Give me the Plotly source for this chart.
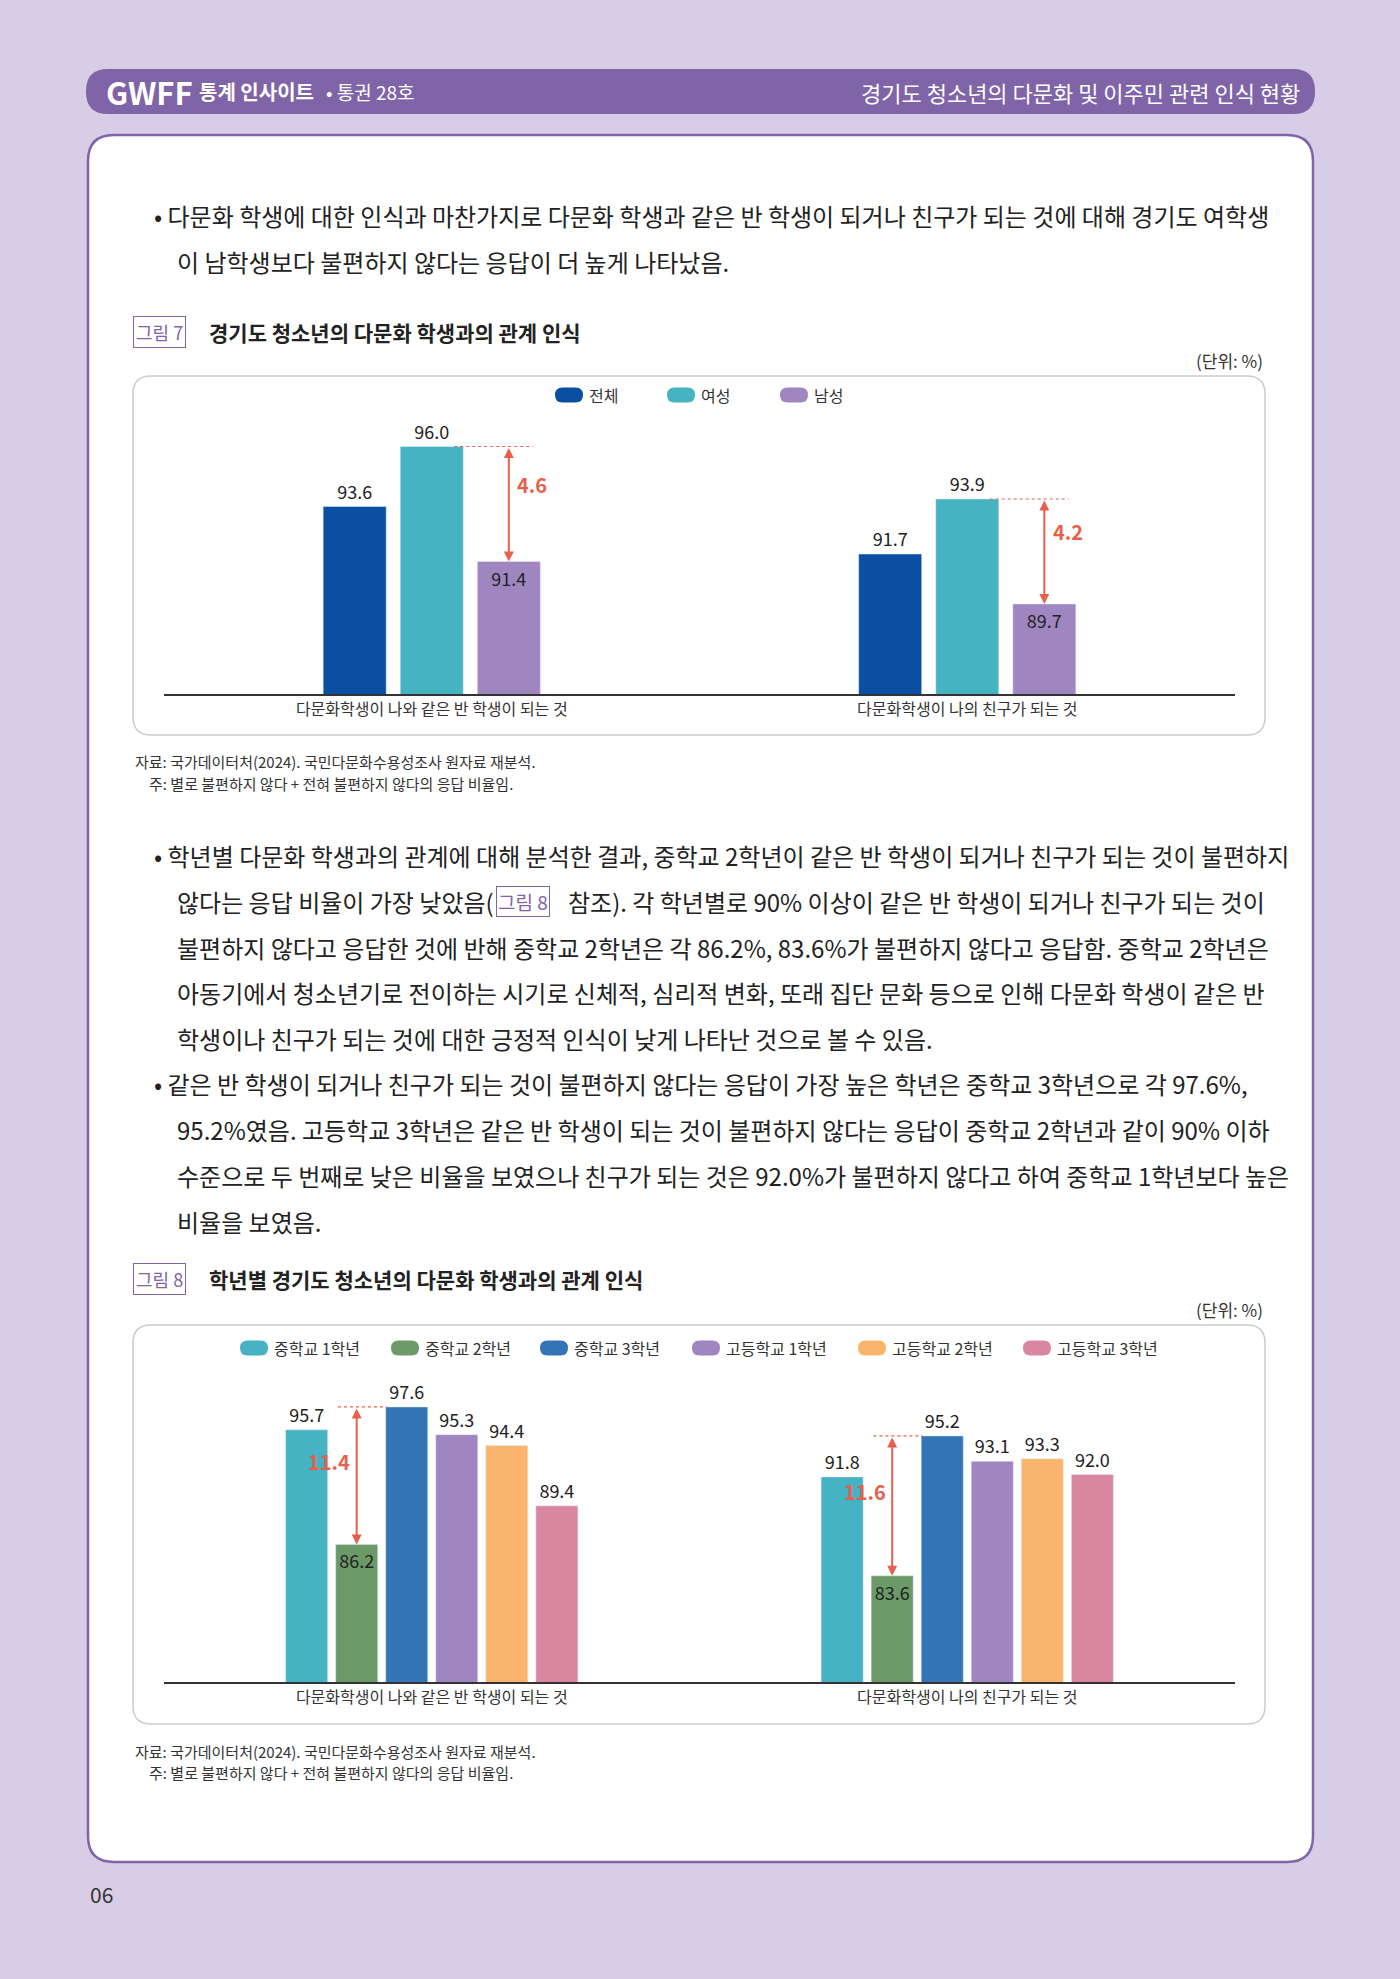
import plotly.graph_objects as go

W, H = 1400, 1979
FONT = "Noto Sans CJK KR"

# ---- data ----
cats1 = ["다문화학생이 나와 같은 반 학생이 되는 것", "다문화학생이 나의 친구가 되는 것"]
series1 = ["전체", "여성", "남성"]
vals1 = {"전체": [93.6, 91.7], "여성": [96.0, 93.9], "남성": [91.4, 89.7]}
colors1 = {"전체": "#0b4fa3", "여성": "#46b3c3", "남성": "#a086c1"}
gap1 = [4.6, 4.2]

series2 = ["중학교 1학년", "중학교 2학년", "중학교 3학년", "고등학교 1학년", "고등학교 2학년", "고등학교 3학년"]
vals2 = {"중학교 1학년": [95.7, 91.8], "중학교 2학년": [86.2, 83.6], "중학교 3학년": [97.6, 95.2],
         "고등학교 1학년": [95.3, 93.1], "고등학교 2학년": [94.4, 93.3], "고등학교 3학년": [89.4, 92.0]}
colors2 = {"중학교 1학년": "#45b3c3", "중학교 2학년": "#6b9a68", "중학교 3학년": "#3274b5",
           "고등학교 1학년": "#a086c1", "고등학교 2학년": "#fbb46e", "고등학교 3학년": "#d987a0"}
gap2 = [11.4, 11.6]

PURPLE = "#8064a8"
RED = "#e8604c"

def px(x): return x / W
def py(y): return 1 - y / H

shapes, annos = [], []

def rrect(x0, y0, x1, y1, r, fill, line=None, lw=0):
    X0, X1, Y0, Y1 = px(x0), px(x1), py(y0), py(y1)
    rx, ry = r / W, r / H
    path = (f"M{X0+rx},{Y0} L{X1-rx},{Y0} Q{X1},{Y0} {X1},{Y0-ry} L{X1},{Y1+ry} Q{X1},{Y1} {X1-rx},{Y1} "
            f"L{X0+rx},{Y1} Q{X0},{Y1} {X0},{Y1+ry} L{X0},{Y0-ry} Q{X0},{Y0} {X0+rx},{Y0} Z")
    shapes.append(dict(type="path", path=path, xref="paper", yref="paper", fillcolor=fill,
                       line=dict(color=line or fill, width=lw), layer="below"))

def text(x, y, s, size=21, color="#222", anchor="left", bold=False, **kw):
    if bold:
        s = f"<b>{s}</b>"
    annos.append(dict(x=px(x), y=py(y), xref="paper", yref="paper", text=s, showarrow=False,
                      xanchor=anchor, yanchor="middle", font=dict(family=FONT, size=size, color=color), **kw))

# background
shapes.append(dict(type="rect", x0=0, x1=1, y0=0, y1=1, xref="paper", yref="paper",
                   fillcolor="#d8cde6", line=dict(width=0), layer="below"))
# header bar
rrect(86, 69, 1315, 114, 22, PURPLE)
text(104, 92, "<b>GWFF</b>", size=31, color="white")
text(197, 92, "<b>통계 인사이트</b>", size=20, color="white")
text(324, 92, "• 통권 28호", size=19, color="white")
text(1302, 92, "경기도 청소년의 다문화 및 이주민 관련 인식 현황", size=22, color="white", anchor="right")
# white content box
rrect(88, 135, 1313, 1862, 26, "white", PURPLE, 2.5)
# page number
text(88, 1894, "06", size=21, color="#333")

PS = 24
# paragraph 1
text(152, 215, "• 다문화 학생에 대한 인식과 마찬가지로 다문화 학생과 같은 반 학생이 되거나 친구가 되는 것에 대해 경기도 여학생", size=PS)
text(175, 261, "이 남학생보다 불편하지 않다는 응답이 더 높게 나타났음.", size=PS)

# fig 7 title
text(133, 332, "그림 7", size=18, color=PURPLE, bordercolor=PURPLE, borderwidth=1, borderpad=2)
text(207, 332, "경기도 청소년의 다문화 학생과의 관계 인식", size=21, bold=True)
text(1265, 360, "(단위: %)", size=17, color="#333", anchor="right")
rrect(133, 376, 1265, 735, 18, "white", "#cccccc", 1.5)
text(133, 761, "자료: 국가데이터처(2024). 국민다문화수용성조사 원자료 재분석.", size=15, color="#333")
text(147, 783, "주: 별로 불편하지 않다 + 전혀 불편하지 않다의 응답 비율임.", size=15, color="#333")

# paragraph 2
lines = [
    (152, 855, "• 학년별 다문화 학생과의 관계에 대해 분석한 결과, 중학교 2학년이 같은 반 학생이 되거나 친구가 되는 것이 불편하지"),
    (175, 947, "불편하지 않다고 응답한 것에 반해 중학교 2학년은 각 86.2%, 83.6%가 불편하지 않다고 응답함. 중학교 2학년은"),
    (175, 992, "아동기에서 청소년기로 전이하는 시기로 신체적, 심리적 변화, 또래 집단 문화 등으로 인해 다문화 학생이 같은 반"),
    (175, 1038, "학생이나 친구가 되는 것에 대한 긍정적 인식이 낮게 나타난 것으로 볼 수 있음."),
    (152, 1083, "• 같은 반 학생이 되거나 친구가 되는 것이 불편하지 않다는 응답이 가장 높은 학년은 중학교 3학년으로 각 97.6%,"),
    (175, 1129, "95.2%였음. 고등학교 3학년은 같은 반 학생이 되는 것이 불편하지 않다는 응답이 중학교 2학년과 같이 90% 이하"),
    (175, 1175, "수준으로 두 번째로 낮은 비율을 보였으나 친구가 되는 것은 92.0%가 불편하지 않다고 하여 중학교 1학년보다 높은"),
    (175, 1221, "비율을 보였음."),
]
for x, y, s in lines:
    text(x, y, s, size=PS)
text(175, 901, "않다는 응답 비율이 가장 낮았음(", size=PS)
text(496, 901, "그림 8", size=19, color=PURPLE, bordercolor=PURPLE, borderwidth=1, borderpad=1)
text(566, 901, "참조). 각 학년별로 90% 이상이 같은 반 학생이 되거나 친구가 되는 것이", size=PS)

# fig 8 title
text(133, 1279, "그림 8", size=18, color=PURPLE, bordercolor=PURPLE, borderwidth=1, borderpad=2)
text(207, 1279, "학년별 경기도 청소년의 다문화 학생과의 관계 인식", size=21, bold=True)
text(1265, 1309, "(단위: %)", size=17, color="#333", anchor="right")
rrect(133, 1325, 1265, 1724, 18, "white", "#cccccc", 1.5)
text(133, 1751, "자료: 국가데이터처(2024). 국민다문화수용성조사 원자료 재분석.", size=15, color="#333")
text(147, 1772, "주: 별로 불편하지 않다 + 전혀 불편하지 않다의 응답 비율임.", size=15, color="#333")

# legends (pill markers)
def pill(x, y, color, w=28, h=15):
    rrect(x, y - h / 2, x + w, y + h / 2, h / 2, color)

for xl, s in zip([555, 667, 780], series1):
    pill(xl, 395, colors1[s])
    text(xl + 32, 395, s, size=16, color="#333")
for xl, s in zip([240, 391, 540, 692, 858, 1023], series2):
    pill(xl, 1348, colors2[s])
    text(xl + 32, 1348, s, size=16, color="#333")

fig = go.Figure()
xpos = [0, 1]
for s in series1:
    v = vals1[s]
    pos = ["inside" if s == "남성" else "outside"] * 2
    fig.add_trace(go.Bar(x=xpos, y=v, name=s, marker_color=colors1[s], texttemplate="%{y:.1f}",
                         textposition=pos, insidetextanchor="end", cliponaxis=False,
                         textfont=dict(family=FONT, size=18, color="#222"),
                         xaxis="x", yaxis="y", showlegend=False))
for s in series2:
    v = vals2[s]
    pos = ["inside" if s == "중학교 2학년" else "outside"] * 2
    fig.add_trace(go.Bar(x=xpos, y=v, name=s, marker_color=colors2[s], texttemplate="%{y:.1f}",
                         textposition=pos, insidetextanchor="end", cliponaxis=False,
                         textfont=dict(family=FONT, size=18, color="#222"),
                         xaxis="x2", yaxis="y2", showlegend=False))

# gap arrows chart 1
step1 = 77 / 535
for i in range(2):
    top, low = vals1["여성"][i], vals1["남성"][i]
    xa = i + step1
    shapes.append(dict(type="line", xref="x", yref="y", x0=i + step1 / 2 - 0.03, x1=xa + 0.045,
                       y0=top, y1=top, line=dict(color=RED, width=1.2, dash="dot")))
    annos.append(dict(x=xa, y=low, ax=xa, ay=top, xref="x", yref="y", axref="x", ayref="y",
                      showarrow=True, arrowhead=2, startarrowhead=2, arrowside="end+start",
                      arrowcolor=RED, arrowwidth=2, arrowsize=1, text=""))
    annos.append(dict(x=xa + 0.012, y=(top + low) / 2 + 0.8, xref="x", yref="y", text=f"<b>{gap1[i]}</b>",
                      showarrow=False, xanchor="left", font=dict(family=FONT, size=20, color=RED)))

# gap arrows chart 2
step2 = 50 / 535
for i in range(2):
    top, low = vals2["중학교 3학년"][i], vals2["중학교 2학년"][i]
    xa = i - 1.5 * step2
    shapes.append(dict(type="line", xref="x2", yref="y2", x0=xa - 0.035, x1=xa + step2 / 2 + 0.01,
                       y0=top, y1=top, line=dict(color=RED, width=1.2, dash="dot")))
    annos.append(dict(x=xa, y=low, ax=xa, ay=top, xref="x2", yref="y2", axref="x2", ayref="y2",
                      showarrow=True, arrowhead=2, startarrowhead=2, arrowside="end+start",
                      arrowcolor=RED, arrowwidth=2, arrowsize=1, text=""))
    annos.append(dict(x=xa - 0.008, y=(top + low) / 2 + 1.2, xref="x2", yref="y2", text=f"<b>{gap2[i]}</b>",
                      showarrow=False, xanchor="right", font=dict(family=FONT, size=20, color=RED)))

xd = [px(164), px(1235)]
xaxis_common = dict(range=[-0.5, 1.5], tickmode="array", tickvals=xpos, ticktext=cats1, showgrid=False,
                    showline=True, linecolor="#333", linewidth=1.5, ticks="", zeroline=False,
                    tickfont=dict(family=FONT, size=16, color="#333"), fixedrange=True)
fig.update_layout(
    width=W, height=H, margin=dict(l=0, r=0, t=0, b=0),
    paper_bgcolor="#d8cde6", plot_bgcolor="rgba(0,0,0,0)",
    barmode="group",
    xaxis=dict(domain=xd, anchor="y", **xaxis_common),
    yaxis=dict(domain=[py(694), py(409)], range=[86.1, 97.5], visible=False, anchor="x"),
    xaxis2=dict(domain=xd, anchor="y2", **xaxis_common),
    yaxis2=dict(domain=[py(1682), py(1378)], range=[74.8, 100], visible=False, anchor="x2"),
    shapes=shapes, annotations=annos,
    font=dict(family=FONT),
)
for k, s in enumerate(series1):
    fig.data[k].update(width=63 / 535, offset=-217 / 535 / 2 + k * step1)
for k, s in enumerate(series2):
    fig.data[3 + k].update(width=42 / 535, offset=-292 / 535 / 2 + k * step2)

fig.write_html("out.html", config={"displayModeBar": False},
               post_script="document.body.style.margin='0';document.body.style.background='#d8cde6';")
